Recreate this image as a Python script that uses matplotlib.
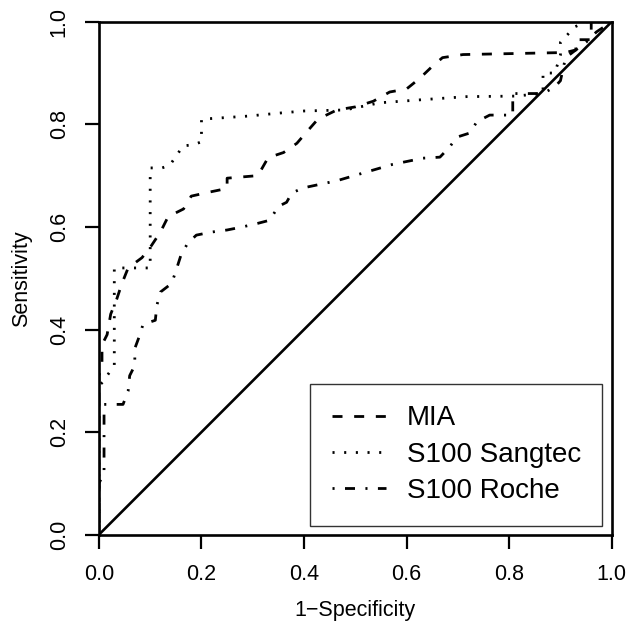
import matplotlib
matplotlib.use('Agg')
import matplotlib.pyplot as plt

plt.rcParams['font.family'] = ['Liberation Sans', 'DejaVu Sans']
plt.rcParams['lines.scale_dashes'] = False

# ROC curves (1-specificity, sensitivity)
mia_fpr = [0, 0, 0.006, 0.006, 0.016, 0.023, 0.035, 0.045, 0.057, 0.084, 0.10, 0.12,
           0.135, 0.165, 0.18, 0.216, 0.25, 0.25, 0.31, 0.33, 0.36, 0.386, 0.405, 0.427,
           0.464, 0.50, 0.535, 0.567, 0.60, 0.626, 0.649, 0.67, 0.71, 0.91, 0.93, 0.93,
           0.96, 0.96, 1.0]
mia_tpr = [0, 0.31, 0.33, 0.37, 0.39, 0.43, 0.46, 0.49, 0.52, 0.54, 0.56, 0.59,
           0.62, 0.635, 0.66, 0.668, 0.675, 0.695, 0.70, 0.735, 0.745, 0.763, 0.785, 0.81,
           0.828, 0.834, 0.845, 0.863, 0.869, 0.89, 0.912, 0.93, 0.936, 0.94, 0.945, 0.965,
           0.965, 1.0, 1.0]

sangtec_fpr = [0, 0, 0.01, 0.016, 0.03, 0.03, 0.10, 0.10, 0.123, 0.138, 0.152, 0.164,
               0.184, 0.20, 0.20, 0.29, 0.353, 0.40, 0.48, 0.548, 0.63, 0.717, 0.81,
               0.866, 0.866, 0.889, 0.90, 0.90, 0.914, 0.928, 0.95, 1.0]
sangtec_tpr = [0, 0.29, 0.30, 0.31, 0.33, 0.52, 0.52, 0.715, 0.715, 0.72, 0.74, 0.758,
               0.76, 0.766, 0.81, 0.816, 0.822, 0.826, 0.828, 0.842, 0.848, 0.854, 0.855,
               0.86, 0.90, 0.90, 0.935, 0.96, 0.975, 0.99, 1.0, 1.0]

roche_fpr = [0, 0, 0.01, 0.01, 0.047, 0.057, 0.06, 0.07, 0.07, 0.08, 0.086, 0.11,
             0.113, 0.12, 0.142, 0.152, 0.16, 0.173, 0.19, 0.22, 0.25, 0.28, 0.31, 0.333,
             0.35, 0.366, 0.376, 0.398, 0.464, 0.515, 0.573, 0.632, 0.665, 0.684, 0.698,
             0.723, 0.737, 0.762, 0.807, 0.807, 0.866, 0.889, 0.90, 0.91, 0.95, 0.97, 1.0]
roche_tpr = [0, 0.10, 0.12, 0.254, 0.254, 0.28, 0.31, 0.33, 0.363, 0.39, 0.41, 0.418,
             0.447, 0.473, 0.49, 0.52, 0.545, 0.568, 0.584, 0.59, 0.594, 0.60, 0.607, 0.613,
             0.64, 0.648, 0.666, 0.676, 0.69, 0.705, 0.722, 0.734, 0.736, 0.756, 0.775,
             0.783, 0.805, 0.818, 0.818, 0.86, 0.86, 0.873, 0.885, 0.93, 0.96, 0.98, 1.0]

labels = ['MIA', 'S100 Sangtec', 'S100 Roche']
ticks = [0.0, 0.2, 0.4, 0.6, 0.8, 1.0]

fig = plt.figure(figsize=(6.3, 6.21), dpi=100)
ax = fig.add_axes([0.157, 0.139, 0.814, 0.826])

lw = 2.0
ax.plot(mia_fpr, mia_tpr, color='black', lw=lw, dashes=(7.2, 8.4), label=labels[0])
ax.plot(sangtec_fpr, sangtec_tpr, color='black', lw=lw, dashes=(1.5, 6.9), label=labels[1])
ax.plot(roche_fpr, roche_tpr, color='black', lw=lw, dashes=(1.5, 7.5, 7.2, 7.5), label=labels[2])
ax.plot([0, 1], [0, 1], color='black', lw=1.9)

ax.set_xlim(0, 1)
ax.set_ylim(0, 1)
ax.set_xticks(ticks)
ax.set_yticks(ticks)
ax.set_xticklabels([f'{t:.1f}' for t in ticks])
ax.set_yticklabels([f'{t:.1f}' for t in ticks], rotation=90, va='center')
ax.tick_params(direction='out', length=10, width=1.6, labelsize=15.5, pad=11)
for s in ax.spines.values():
    s.set_linewidth(1.9)

ax.set_xlabel('1\u2212Specificity', fontsize=15.5, labelpad=11)
ax.set_ylabel('Sensitivity', fontsize=15.5, labelpad=12)

leg = ax.legend(loc='lower right', bbox_to_anchor=(0.982, 0.0176), borderaxespad=0,
                fontsize=20, handlelength=1.95, handletextpad=0.75, labelspacing=0.37,
                borderpad=0.78, fancybox=False, framealpha=1)
leg.get_frame().set_edgecolor('#333333')
leg.get_frame().set_linewidth(1.0)

fig.savefig('out.png', dpi=100)
